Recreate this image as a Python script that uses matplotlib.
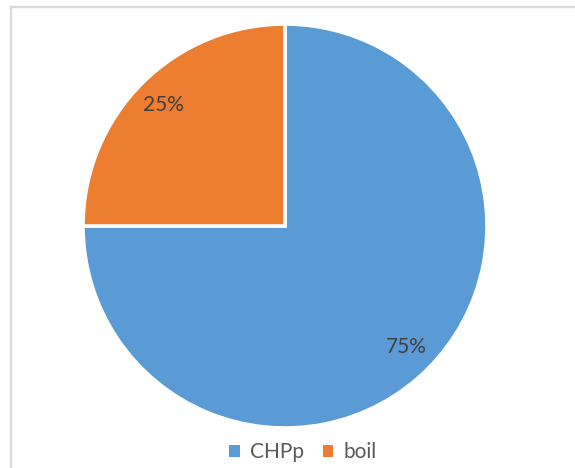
import matplotlib.pyplot as plt
from matplotlib.lines import Line2D
from matplotlib.patches import Patch

labels = ["CHPp", "boil"]
values = [75, 25]
colors = ["#5B9BD5", "#ED7D31"]

plt.rcParams['font.family'] = ['Lato', 'DejaVu Sans']

fig = plt.figure(figsize=(5.75, 4.68), dpi=100)
fig.patch.set_facecolor("white")

# chart frame (top and left edges visible)
fig.add_artist(Line2D([10.5 / 575, 575 / 575], [1 - 6.5 / 468, 1 - 6.5 / 468],
                      transform=fig.transFigure, color="#D9D9D9", lw=1.6))
fig.add_artist(Line2D([10.5 / 575, 10.5 / 575], [0, 1 - 6.5 / 468],
                      transform=fig.transFigure, color="#D9D9D9", lw=1.6))

ax = fig.add_axes([83 / 575, 40 / 468, 404 / 575, 404 / 468])
wedges, texts, autotexts = ax.pie(
    values, colors=colors, startangle=90, counterclock=False,
    autopct="%1.0f%%", pctdistance=0.85,
    wedgeprops=dict(edgecolor="white", linewidth=2.6),
    textprops=dict(color="#404040", fontsize=15),
)
ax.set_xlim(-1, 1)
ax.set_ylim(-1, 1)
ax.set_aspect("equal")
ax.axis("off")

handles = [Patch(facecolor=c, edgecolor="none") for c in colors]
fig.legend(handles, labels, loc="center", bbox_to_anchor=(303 / 575, 1 - 452 / 468),
           ncol=2, frameon=False, fontsize=15, labelcolor="#595959",
           handlelength=0.5, handleheight=0.5, handletextpad=0.5, columnspacing=0.9)

fig.savefig("out.png", dpi=100)
